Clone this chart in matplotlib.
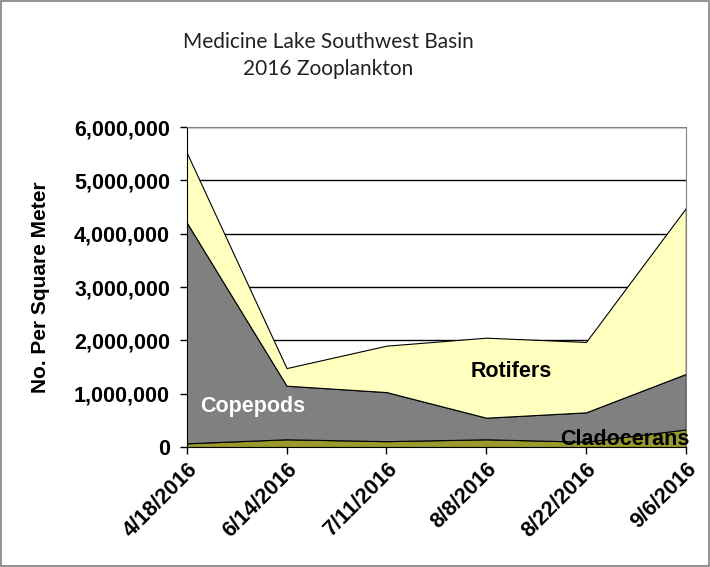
import matplotlib.pyplot as plt
from matplotlib.patches import Rectangle

dates = ['4/18/2016', '6/14/2016', '7/11/2016', '8/8/2016', '8/22/2016', '9/6/2016']
cladocerans = [70000, 145000, 110000, 145000, 100000, 330000]
copepods = [4140000, 1005000, 920000, 405000, 550000, 1040000]
rotifers = [1310000, 330000, 870000, 1500000, 1320000, 3110000]
yticks = [0, 1000000, 2000000, 3000000, 4000000, 5000000, 6000000]

fig = plt.figure(figsize=(7.1, 5.67), dpi=100)
fig.patches.append(Rectangle((0.002, 0.002), 0.996, 0.996, transform=fig.transFigure,
                             fill=False, edgecolor='#808080', linewidth=1.2))
ax = fig.add_axes([0.263, 0.2116, 0.703, 0.5644])

x = list(range(len(dates)))
ax.stackplot(x, cladocerans, copepods, rotifers,
             colors=['#99992E', '#808080', '#FFFFC0'],
             edgecolor='#000000', linewidth=0.8)

ax.set_xlim(0, len(dates) - 1)
ax.set_ylim(0, 6000000)
ax.set_yticks(yticks)
ax.set_yticklabels([f'{v:,}' for v in yticks], fontsize=15.5, fontweight='bold',
                   family='Liberation Sans')
ax.set_xticks(x)
ax.set_xticklabels(dates, rotation=45, ha='right', rotation_mode='anchor',
                   fontsize=15.5, fontweight='bold', family='Liberation Sans')
ax.tick_params(axis='both', direction='out', length=5, width=1, color='#000000')
ax.tick_params(axis='y', pad=7)
ax.grid(axis='y', color='#000000', linewidth=1)
ax.set_axisbelow(True)
for s in ['top', 'right']:
    ax.spines[s].set_color('#808080')
ax.spines['bottom'].set_color('#000000')
ax.spines['left'].set_color('#000000')

ax.set_ylabel('No. Per Square Meter', fontsize=15, fontweight='bold',
              family='Liberation Sans', labelpad=17)

ax.text(0.13, 760000, 'Copepods', color='white', fontsize=15.5, fontweight='bold',
        family='Liberation Sans', ha='left', va='center')
ax.text(3.25, 1420000, 'Rotifers', color='black', fontsize=15.5, fontweight='bold',
        family='Liberation Sans', ha='center', va='center')
ax.text(5.04, 150000, 'Cladocerans', color='black', fontsize=15.5, fontweight='bold',
        family='Liberation Sans', ha='right', va='center')

fig.text(0.462, 0.902, 'Medicine Lake Southwest Basin\n2016 Zooplankton', ha='center',
         va='center', fontsize=15, family='Lato', fontweight='normal', linespacing=1.4,
         color='#222222')

fig.savefig('out.png', dpi=100)
